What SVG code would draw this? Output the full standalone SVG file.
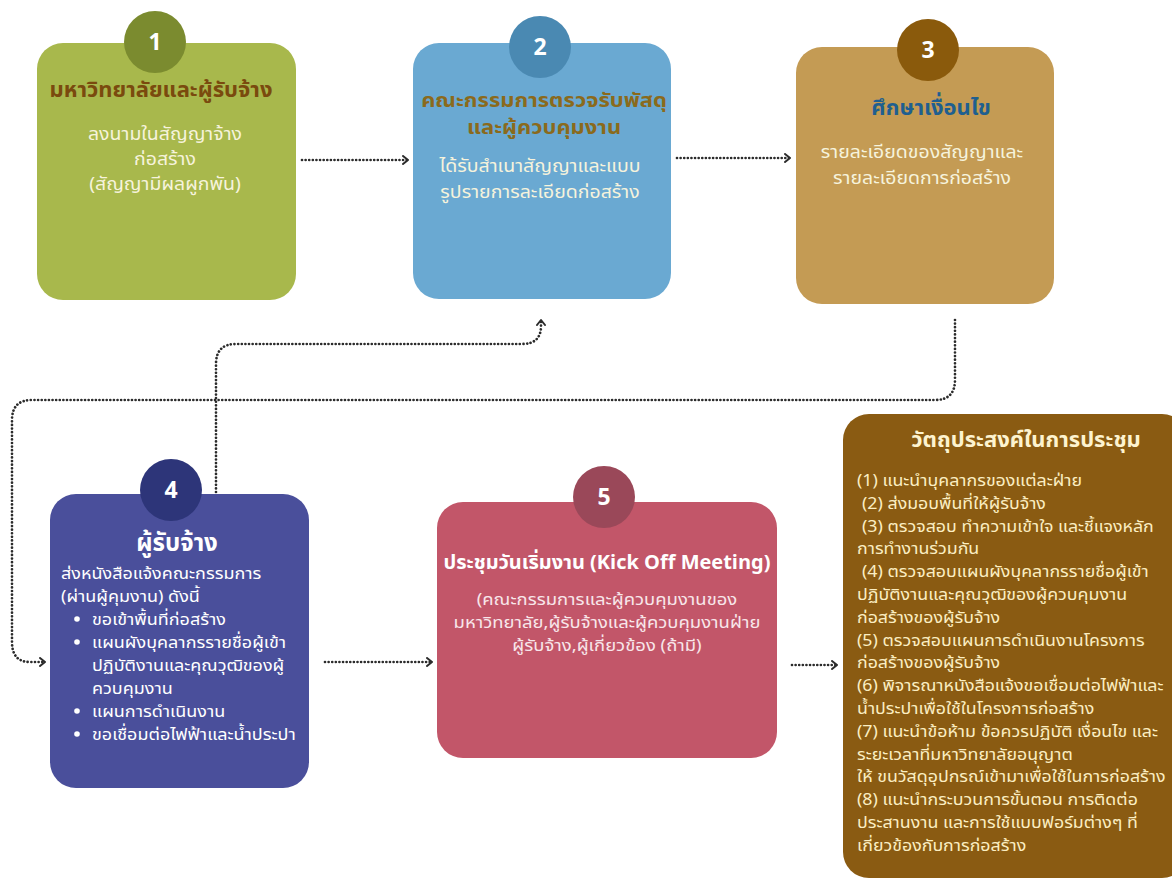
<svg xmlns="http://www.w3.org/2000/svg" width="1172" height="880" viewBox="0 0 1172 880">
<defs>
<marker id="chev" viewBox="0 0 8 10" refX="6" refY="5" markerWidth="8" markerHeight="10" markerUnits="userSpaceOnUse" orient="auto">
<path d="M1,1 L6,5 L1,9" fill="none" stroke="#2b2b2b" stroke-width="2" stroke-linecap="round" stroke-linejoin="round"/>
</marker>
<style>
text{font-family:"Noto Sans Thai","Noto Sans Thai UI","Noto Sans","DejaVu Sans",sans-serif;}
.num{font-size:23px;font-weight:700;fill:#ffffff;text-anchor:middle;}
.ttl{font-size:22px;font-weight:700;text-anchor:middle;}
.t2{font-size:19.5px;font-weight:700;text-anchor:middle;}
.body{font-size:18px;fill:#f6f3dc;text-anchor:middle;}
.b5{font-size:16.5px;fill:#f8e6ea;text-anchor:middle;}
.bl{font-size:16.5px;fill:#ffffff;}
.rt{font-size:16px;fill:#fbeec2;}
.conn{fill:none;stroke:#2b2b2b;stroke-width:2.7;stroke-linecap:round;stroke-dasharray:0.01 3.6;}
</style>
</defs>
<rect width="1172" height="880" fill="#ffffff"/>

<g id="connectors">
<path class="conn" d="M302,160 L408,160" marker-end="url(#chev)"/>
<path class="conn" d="M677,158 L790,158" marker-end="url(#chev)"/>
<path class="conn" d="M955,320 L955,380 Q955,400 935,400 L32,400 Q12,400 12,420 L12,642 Q12,662 30,662 L45,662" marker-end="url(#chev)"/>
<path class="conn" d="M216,492 L216,364 Q216,344 236,344 L522,344 Q541,344 541,326 L541,320" marker-end="url(#chev)"/>
<path class="conn" d="M325,662 L432,662" marker-end="url(#chev)"/>
<path class="conn" d="M792,665 L837,665" marker-end="url(#chev)"/>
</g>

<g id="node1">
<rect x="37" y="43" width="259" height="257" rx="26" fill="#a8b84c"/>
<circle cx="155" cy="42" r="31" fill="#7b8b2f"/>
<text class="num" x="155" y="50">1</text>
<text class="ttl" x="161" y="97" fill="#7a4a0e">มหาวิทยาลัยและผู้รับจ้าง</text>
<g transform="matrix(1.083,0,0,1,-13.7,0)">
<text class="body" x="165" y="140">ลงนามในสัญญาจ้าง</text>
<text class="body" x="165" y="165">ก่อสร้าง</text>
<text class="body" x="165" y="190">(สัญญามีผลผูกพัน)</text>
</g>
</g>

<g id="node2">
<rect x="413" y="43" width="258" height="256" rx="26" fill="#6aa9d2"/>
<circle cx="540" cy="47" r="31" fill="#4a89b2"/>
<text class="num" x="540" y="55">2</text>
<g transform="matrix(1.128,0,0,1,-69.6,0)">
<text class="t2" x="544" y="107" fill="#8a6a1c">คณะกรรมการตรวจรับพัสดุ</text>
<text class="t2" x="544" y="134" fill="#8a6a1c">และผู้ควบคุมงาน</text>
</g>
<g transform="matrix(1.083,0,0,1,-44.8,0)">
<text class="body" x="540" y="172" fill="#ffffff">ได้รับสำเนาสัญญาและแบบ</text>
<text class="body" x="540" y="198" fill="#ffffff">รูปรายการละเอียดก่อสร้าง</text>
</g>
</g>

<g id="node3">
<rect x="796" y="47" width="258" height="257" rx="26" fill="#c49b54"/>
<circle cx="928" cy="50" r="31" fill="#8a5a0c"/>
<text class="num" x="928" y="58">3</text>
<text class="ttl" x="931" y="115" fill="#1f5f8f">ศึกษาเงื่อนไข</text>
<g transform="matrix(1.083,0,0,1,-76.5,0)">
<text class="body" x="922" y="158">รายละเอียดของสัญญาและ</text>
<text class="body" x="922" y="184">รายละเอียดการก่อสร้าง</text>
</g>
</g>

<g id="node4">
<rect x="50" y="494" width="259" height="294" rx="26" fill="#4a4f9b"/>
<circle cx="171" cy="490" r="31" fill="#2d3579"/>
<text class="num" x="171" y="498">4</text>
<text class="ttl" x="177" y="551" fill="#ffffff" style="font-size:24px">ผู้รับจ้าง</text>
<circle cx="77" cy="619" r="2.8" fill="#ffffff"/>
<circle cx="77" cy="642" r="2.8" fill="#ffffff"/>
<circle cx="77" cy="711" r="2.8" fill="#ffffff"/>
<circle cx="77" cy="734" r="2.8" fill="#ffffff"/>
<g transform="matrix(1.09,0,0,1,-5.49,0)">
<text class="bl" x="61" y="579">ส่งหนังสือแจ้งคณะกรรมการ</text>
<text class="bl" x="61" y="602">(ผ่านผู้คุมงาน) ดังนี้</text>
</g>
<g transform="matrix(1.09,0,0,1,-8.28,0)">
<text class="bl" x="92" y="625">ขอเข้าพื้นที่ก่อสร้าง</text>
<text class="bl" x="92" y="648">แผนผังบุคลากรรายชื่อผู้เข้า</text>
<text class="bl" x="92" y="671">ปฏิบัติงานและคุณวุฒิของผู้</text>
<text class="bl" x="92" y="694">ควบคุมงาน</text>
<text class="bl" x="92" y="717">แผนการดำเนินงาน</text>
<text class="bl" x="92" y="740">ขอเชื่อมต่อไฟฟ้าและน้ำประปา</text>
</g>
</g>

<g id="node5">
<rect x="437" y="502" width="340" height="256" rx="26" fill="#c25669"/>
<circle cx="604" cy="497" r="31" fill="#9a4859"/>
<text class="num" x="604" y="505">5</text>
<text class="ttl" x="607" y="569" fill="#ffffff" style="font-size:20px">ประชุมวันเริ่มงาน (Kick Off Meeting)</text>
<g transform="matrix(1.12,0,0,1,-72.84,0)">
<text class="b5" x="607" y="605">(คณะกรรมการและผู้ควบคุมงานของ</text>
<text class="b5" x="607" y="628">มหาวิทยาลัย,ผู้รับจ้างและผู้ควบคุมงานฝ่าย</text>
<text class="b5" x="607" y="651">ผู้รับจ้าง,ผู้เกี่ยวข้อง (ถ้ามี)</text>
</g>
</g>

<g id="node6">
<rect x="843" y="414" width="345" height="464" rx="26" fill="#8a5b12"/>
<text class="ttl" x="1026" y="447" fill="#fdf3cf">วัตถุประสงค์ในการประชุม</text>
<g transform="matrix(1.113,0,0,1,-96.84,0)">
<text class="rt" x="857" y="486">(1) แนะนำบุคลากรของแต่ละฝ่าย</text>
<text class="rt" x="861.5" y="508.8">(2) ส่งมอบพื้นที่ให้ผู้รับจ้าง</text>
<text class="rt" x="861.5" y="531.6">(3) ตรวจสอบ ทำความเข้าใจ และชี้แจงหลัก</text>
<text class="rt" x="857" y="554.4">การทำงานร่วมกัน</text>
<text class="rt" x="861.5" y="577.2">(4) ตรวจสอบแผนผังบุคลากรรายชื่อผู้เข้า</text>
<text class="rt" x="857" y="600">ปฏิบัติงานและคุณวุฒิของผู้ควบคุมงาน</text>
<text class="rt" x="857" y="622.8">ก่อสร้างของผู้รับจ้าง</text>
<text class="rt" x="857" y="645.6">(5) ตรวจสอบแผนการดำเนินงานโครงการ</text>
<text class="rt" x="857" y="668.4">ก่อสร้างของผู้รับจ้าง</text>
<text class="rt" x="857" y="691.2">(6) พิจารณาหนังสือแจ้งขอเชื่อมต่อไฟฟ้าและ</text>
<text class="rt" x="857" y="714">น้ำประปาเพื่อใช้ในโครงการก่อสร้าง</text>
<text class="rt" x="857" y="736.8">(7) แนะนำข้อห้าม ข้อควรปฏิบัติ เงื่อนไข และ</text>
<text class="rt" x="857" y="759.6">ระยะเวลาที่มหาวิทยาลัยอนุญาต</text>
<text class="rt" x="857" y="782.4">ให้ ขนวัสดุอุปกรณ์เข้ามาเพื่อใช้ในการก่อสร้าง</text>
<text class="rt" x="857" y="805.2">(8) แนะนำกระบวนการขั้นตอน การติดต่อ</text>
<text class="rt" x="857" y="828">ประสานงาน และการใช้แบบฟอร์มต่างๆ ที่</text>
<text class="rt" x="857" y="850.8">เกี่ยวข้องกับการก่อสร้าง</text>
</g>
</g>
</svg>
